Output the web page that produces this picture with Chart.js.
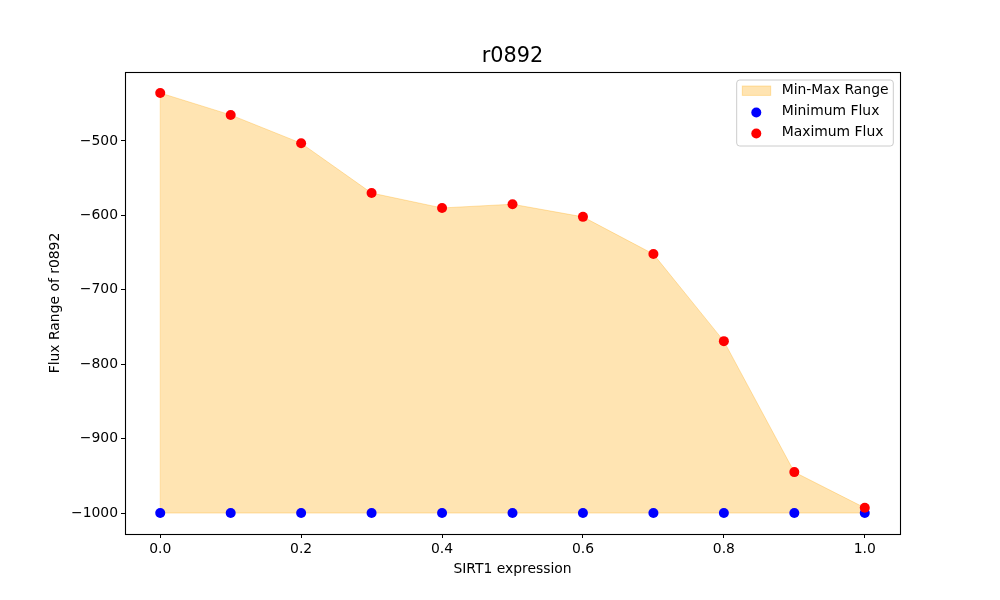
<!DOCTYPE html>
<html>
<head>
<meta charset="utf-8">
<script src="https://cdn.jsdelivr.net/npm/chart.js@4/dist/chart.umd.min.js"></script>
<style>
  body { margin: 0; background: #fff; }
  canvas { display: block; }
</style>
</head>
<body>
<canvas id="fluxChart" width="1000" height="600"></canvas>
<script>
// values
const expression = [0.0, 0.1, 0.2, 0.3, 0.4, 0.5, 0.6, 0.7, 0.8, 0.9, 1.0];
const minFlux = [-1000, -1000, -1000, -1000, -1000, -1000, -1000, -1000, -1000, -1000, -1000];
const maxFlux = [-435.5, -465, -503, -570, -590, -585, -602, -652, -769, -945, -993];
const xTicks = [0.0, 0.2, 0.4, 0.6, 0.8, 1.0];
const yTicks = [-1000, -900, -800, -700, -600, -500];
const chartTitle = "r0892";

const toPoints = (ys) => expression.map((x, i) => ({ x: x, y: ys[i] }));
const rangeColor = "rgba(255,165,0,0.3)";

Chart.defaults.font.family = "'DejaVu Sans', sans-serif";
Chart.defaults.font.size = 13.9;
Chart.defaults.color = "#000";

// frame, title and matplotlib-like legend
const decorPlugin = {
  id: "decor",
  afterDraw(chart) {
    const { ctx, chartArea: a } = chart;
    ctx.save();
    ctx.strokeStyle = "#000";
    ctx.lineWidth = 1.1;
    ctx.strokeRect(a.left + 0.5, a.top + 0.5, a.right - a.left, a.bottom - a.top);

    ctx.fillStyle = "#000";
    ctx.font = "20.8px 'DejaVu Sans'";
    ctx.textAlign = "center";
    ctx.textBaseline = "middle";
    ctx.fillText(chartTitle, (a.left + a.right) / 2, a.top - 15);

    // legend box
    const bx = a.right - 163.3, by = a.top + 8, bw = 156.6, bh = 66;
    ctx.beginPath();
    ctx.roundRect(bx, by, bw, bh, 3);
    ctx.fillStyle = "rgba(255,255,255,0.8)";
    ctx.fill();
    ctx.strokeStyle = "#cccccc";
    ctx.lineWidth = 1;
    ctx.stroke();

    const ds = chart.data.datasets;
    const rows = [by + 10.7, by + 31.7, by + 52.7];
    ctx.font = "13.9px 'DejaVu Sans'";
    ctx.textAlign = "left";
    ds.forEach((d, i) => {
      const y = rows[i];
      if (i === 0) {
        ctx.fillStyle = d.backgroundColor;
        ctx.fillRect(bx + 5.6, y - 4.7, 28.4, 9.4);
        ctx.strokeStyle = d.borderColor;
        ctx.strokeRect(bx + 5.6, y - 4.7, 28.4, 9.4);
      } else {
        ctx.beginPath();
        ctx.arc(bx + 19.6, y + 0.8, 5, 0, Math.PI * 2);
        ctx.fillStyle = d.backgroundColor;
        ctx.fill();
      }
      ctx.fillStyle = "#000";
      ctx.fillText(d.label, bx + 45, y);
    });
    ctx.restore();
  },
  // left edge of the filled band, as matplotlib strokes the polygon
  beforeDatasetsDraw(chart) {
    const { ctx, scales } = chart;
    const x = scales.x.getPixelForValue(expression[0]);
    ctx.save();
    ctx.strokeStyle = rangeColor;
    ctx.lineWidth = 1;
    ctx.beginPath();
    ctx.moveTo(x, scales.y.getPixelForValue(minFlux[0]));
    ctx.lineTo(x, scales.y.getPixelForValue(maxFlux[0]));
    ctx.stroke();
    ctx.restore();
  },
};

const fluxChart = new Chart(document.getElementById("fluxChart").getContext("2d"), {
  type: "scatter",
  data: {
    datasets: [
      {
        label: "Min-Max Range",
        data: toPoints(maxFlux),
        showLine: true,
        fill: 1,
        backgroundColor: rangeColor,
        borderColor: rangeColor,
        borderWidth: 1,
        pointRadius: 0,
        order: 3,
      },
      {
        label: "Minimum Flux",
        data: toPoints(minFlux),
        showLine: true,
        backgroundColor: "#0000ff",
        borderColor: rangeColor,
        borderWidth: 1,
        pointBackgroundColor: "#0000ff",
        pointBorderWidth: 0,
        pointRadius: 5,
        order: 2,
      },
      {
        label: "Maximum Flux",
        data: toPoints(maxFlux),
        backgroundColor: "#ff0000",
        borderColor: "#ff0000",
        pointRadius: 5,
        borderWidth: 0,
        order: 1,
      },
    ],
  },
  options: {
    responsive: false,
    animation: false,
    layout: { padding: { left: 47, right: 100, top: 72, bottom: 22 } },
    plugins: {
      legend: { display: false },
      title: { display: false },
      tooltip: { enabled: false },
    },
    scales: {
      x: {
        type: "linear",
        min: -0.05,
        max: 1.05,
        afterBuildTicks: (scale) => {
          scale.ticks = xTicks.map((v) => ({ value: v }));
        },
        afterFit: (scale) => {
          scale.height = 44;
        },
        ticks: {
          padding: 3,
          maxRotation: 0,
          callback: (v) => Number(v).toFixed(1),
        },
        grid: { drawOnChartArea: false, tickLength: 4, color: "#000" },
        border: { display: false },
        title: { display: true, text: "SIRT1 expression", padding: 0 },
      },
      y: {
        type: "linear",
        min: -1028.2,
        max: -407.3,
        afterBuildTicks: (scale) => {
          scale.ticks = yTicks.map((v) => ({ value: v }));
        },
        afterFit: (scale) => {
          scale.width = 78;
        },
        ticks: {
          padding: 3,
          callback: (v) => (v < 0 ? "\u2212" : "") + Math.abs(v),
        },
        grid: { drawOnChartArea: false, tickLength: 4, color: "#000" },
        border: { display: false },
        title: { display: true, text: "Flux Range of r0892", padding: 0 },
      },
    },
  },
  plugins: [decorPlugin],
});
</script>
</body>
</html>
